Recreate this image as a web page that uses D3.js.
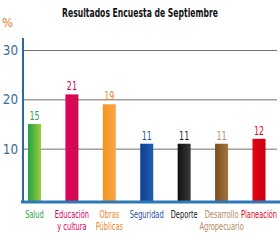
<!DOCTYPE html>
<html>
<head>
<meta charset="utf-8">
<script src="https://cdn.jsdelivr.net/npm/d3@7"></script>
<style>
  body { margin: 0; background: #fff; }
  svg { display: block; }
  text { font-family: "DejaVu Sans Condensed", "Liberation Sans", sans-serif; }
</style>
</head>
<body>
<svg id="chart"></svg>
<script>
const categories = ["Salud", "Educación y cultura", "Obras Públicas", "Seguridad", "Deporte", "Desarrollo Agropecuario", "Planeación"];
const labelLines = [["Salud"], ["Educación", "y cultura"], ["Obras", "Públicas"], ["Seguridad"], ["Deporte"], ["Desarrollo", "Agropecuario"], ["Planeación"]];
const values = [15, 21, 19, 11, 11, 11, 12];
const yTicks = [10, 20, 30];
const barColors = [["#23a246", "#9ccb3b"], ["#e5005b", "#c8104e"], ["#f7941d", "#f6a84b"], ["#0d3f8f", "#1f5fb0"], ["#111111", "#3a3a3a"], ["#7a4a1c", "#a5753f"], ["#e30613", "#c9000f"]];
const textColors = ["#2ea04a", "#d6005a", "#e8872a", "#1c4f9a", "#1a1a1a", "#b38a62", "#e0061a"];

const W = 280, H = 240;
const svg = d3.select("#chart").attr("width", W).attr("height", H);

const x = d3.scalePoint().domain(categories).range([34.5, 259]);
const y = d3.scaleLinear().domain([0, 30]).range([198, 50]);
const barW = 13;
const sx = 0.74; // condensed look

// title
svg.append("text")
  .attr("transform", `translate(140,17) scale(${sx},1)`)
  .attr("text-anchor", "middle")
  .attr("font-size", 11.5).attr("font-weight", "bold")
  .attr("fill", "#111")
  .text("Resultados Encuesta de Septiembre");

svg.append("text")
  .attr("x", 2).attr("y", 27)
  .attr("font-size", 13)
  .attr("fill", "#e07b2a")
  .text("%");

// gradients
const defs = svg.append("defs");
barColors.forEach((c, i) => {
  const g = defs.append("linearGradient").attr("id", "g" + i)
    .attr("x1", "0%").attr("x2", "100%").attr("y1", "0%").attr("y2", "0%");
  g.append("stop").attr("offset", "0%").attr("stop-color", c[0]);
  g.append("stop").attr("offset", "100%").attr("stop-color", c[1]);
});

// gridlines + y labels
const yAxis = svg.append("g")
  .attr("transform", "translate(23,0)")
  .call(d3.axisRight(y).tickValues(yTicks).tickSize(254).tickFormat(""));
yAxis.select(".domain").remove();
yAxis.selectAll(".tick line").attr("stroke", "#6f6f6f").attr("stroke-width", 1);

svg.selectAll(".ylab")
  .data(yTicks)
  .enter().append("text")
  .attr("class", "ylab")
  .attr("transform", d => `translate(18,${y(d) + 5}) scale(0.95,1)`)
  .attr("text-anchor", "end")
  .attr("font-size", 14)
  .attr("fill", "#3a6d9c")
  .text(d => d);

// bars
svg.selectAll(".bar")
  .data(values)
  .enter().append("rect")
  .attr("class", "bar")
  .attr("x", (d, i) => x(categories[i]) - barW / 2)
  .attr("y", d => y(d))
  .attr("width", barW)
  .attr("height", d => 201 - y(d))
  .attr("fill", (d, i) => "url(#g" + i + ")");

svg.selectAll(".val")
  .data(values)
  .enter().append("text")
  .attr("class", "val")
  .attr("transform", (d, i) => `translate(${x(categories[i])},${y(d) - 4}) scale(${sx},1)`)
  .attr("text-anchor", "middle")
  .attr("font-size", 12)
  .attr("fill", (d, i) => textColors[i])
  .text(d => d);

// axes lines
svg.append("line")
  .attr("x1", 23).attr("x2", 23).attr("y1", 38).attr("y2", 202)
  .attr("stroke", "#2b6a9e").attr("stroke-width", 2);
svg.append("line")
  .attr("x1", 21).attr("x2", 280).attr("y1", 202).attr("y2", 202)
  .attr("stroke", "#2f78b8").attr("stroke-width", 3);

// category labels
const lab = svg.selectAll(".cat")
  .data(labelLines)
  .enter().append("text")
  .attr("class", "cat")
  .attr("transform", (d, i) => `translate(${x(categories[i])},0) scale(${sx},1)`)
  .attr("text-anchor", "middle")
  .attr("font-size", 10)
  .attr("fill", (d, i) => textColors[i]);
lab.selectAll("tspan")
  .data(d => d)
  .enter().append("tspan")
  .attr("x", 0)
  .attr("y", (d, j) => 218 + j * 12.5)
  .text(d => d);
</script>
</body>
</html>
